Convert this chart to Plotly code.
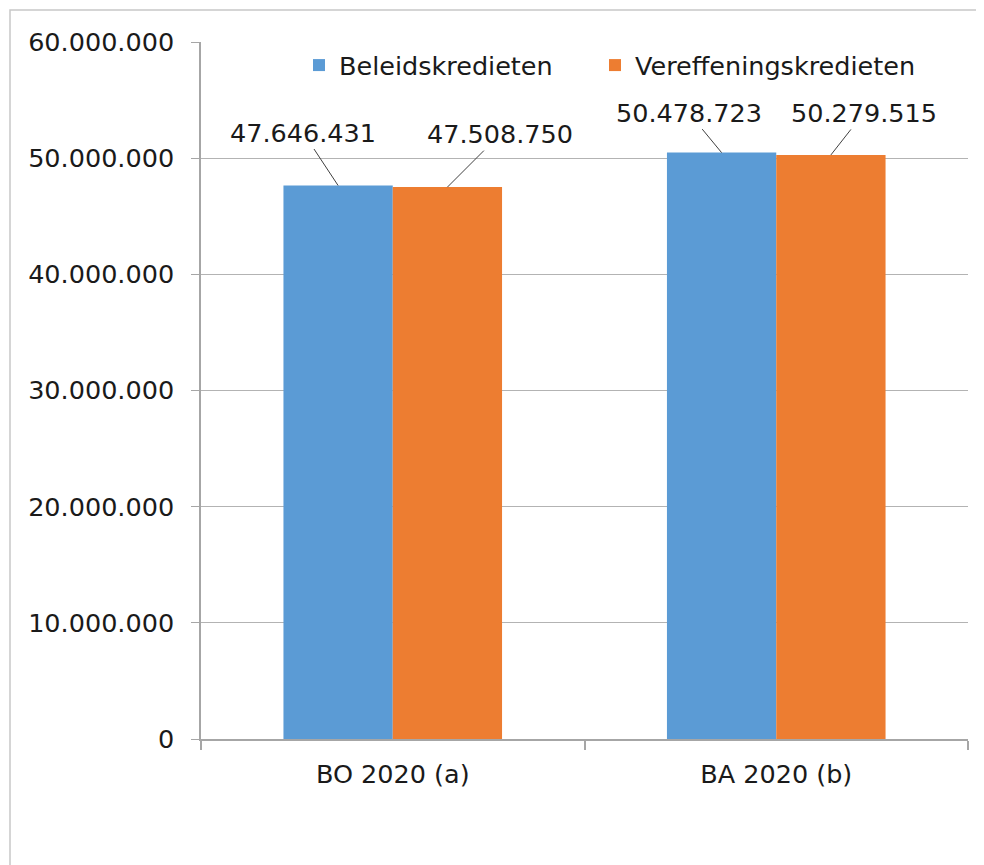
import plotly.graph_objects as go

categories = ["BO 2020 (a)", "BA 2020 (b)"]
beleid = [47646431, 50478723]
vereff = [47508750, 50279515]
series_names = ["Beleidskredieten", "Vereffeningskredieten"]
colors = ["#5B9BD5", "#ED7D31"]
y_ticks = [0, 10000000, 20000000, 30000000, 40000000, 50000000, 60000000]

def fmt(v):
    return f"{v:,}".replace(",", ".")

FONT = "DejaVu Sans"
FS = 25.5

fig = go.Figure()
fig.add_trace(go.Bar(x=categories, y=beleid, name=series_names[0], marker_color=colors[0],
                     marker_line_width=0, legend="legend", showlegend=True))
fig.add_trace(go.Bar(x=categories, y=vereff, name=series_names[1], marker_color=colors[1],
                     marker_line_width=0, legend="legend2", showlegend=True))

# label offsets (pixels) for leader lines
offsets = [[(-35, -53), (53, -53)], [(-33, -40), (33, -42)]]
half = 0.1425
for i, cat in enumerate(categories):
    for j, vals in enumerate([beleid, vereff]):
        ax, ay = offsets[i][j]
        fig.add_annotation(x=i + (-half if j == 0 else half), y=vals[i], xref="x", yref="y",
                           text=fmt(vals[i]), showarrow=True, arrowhead=0, arrowwidth=1,
                           arrowcolor="#404040", ax=ax, ay=ay, standoff=0,
                           font=dict(family=FONT, size=FS, color="#1a1a1a"))

OFF = 8  # page body margin
L, R, T, B = 201 - OFF, 16, 42 - OFF, 126
W, H = 984 - OFF, 865 - OFF
pw, ph = W - L - R, H - T - B
bx, by = 10 - OFF, 10 - OFF
fig.add_shape(type="rect", xref="paper", yref="paper",
              x0=(bx - L) / pw, x1=(W + 20 - L) / pw,
              y0=(H - B - (H + 20)) / ph, y1=(H - B - by) / ph,
              line=dict(color="#c8c8c8", width=1.5), fillcolor="rgba(0,0,0,0)")

leg_common = dict(orientation="h", xanchor="left", y=1.0, yanchor="top",
                  font=dict(family=FONT, size=FS), bgcolor="rgba(0,0,0,0)",
                  itemclick=False, visible=True)

fig.update_layout(
    width=W, height=H,
    margin=dict(l=L, r=R, t=T, b=B),
    paper_bgcolor="white", plot_bgcolor="white",
    separators=",.",
    showlegend=True,
    barmode="group", bargap=0.43, bargroupgap=0,
    font=dict(family=FONT, size=FS, color="#1a1a1a"),
    legend=dict(x=(299 - 201) / 767, **leg_common),
    legend2=dict(x=(595 - 201) / 767, **leg_common),
    xaxis=dict(showline=True, linecolor="#a6a6a6", linewidth=1.5, ticks="outside",
               tickson="boundaries", ticklen=9, tickcolor="#a6a6a6", tickwidth=1.5,
               ticklabelstandoff=12,
               showgrid=False, tickfont=dict(family=FONT, size=FS)),
    yaxis=dict(range=[0, 60000000], tickvals=y_ticks, tickformat=",d",
               showline=True, linecolor="#a6a6a6", linewidth=1.5,
               gridcolor="#b3b3b3", gridwidth=1.2, zeroline=False,
               ticks="outside", ticklen=8, tickcolor="#a6a6a6", tickwidth=1.2,
               ticklabelstandoff=12, tickfont=dict(family=FONT, size=FS)),
)

fig.write_html("out.html")
